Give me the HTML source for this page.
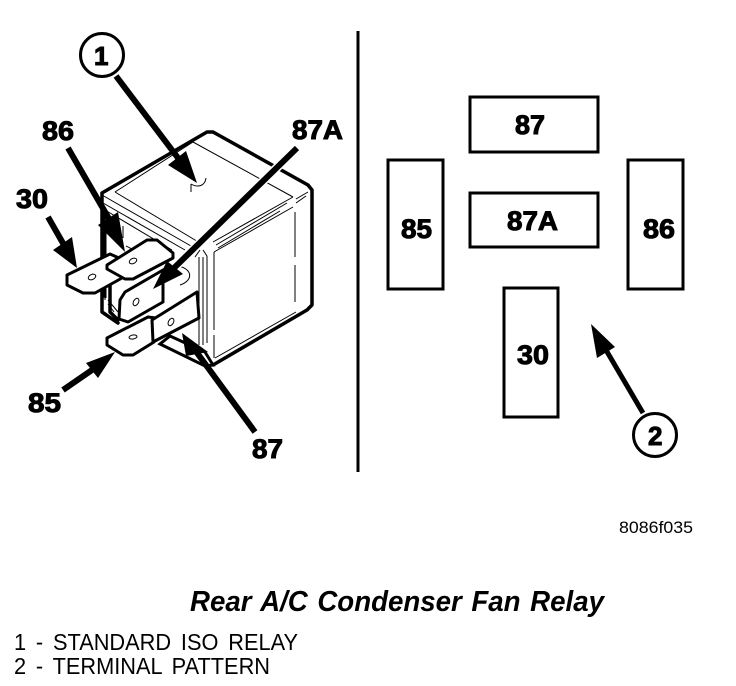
<!DOCTYPE html>
<html>
<head>
<meta charset="utf-8">
<style>
html,body{margin:0;padding:0;background:#fff}
svg{display:block}
text{font-family:"Liberation Sans",Arial,sans-serif;fill:#000}
.b{font-weight:bold;font-size:27px;stroke:#000;stroke-width:1px}
.c{font-weight:bold;font-size:26px;stroke:#000;stroke-width:1px}
.box{fill:#fff;stroke:#000;stroke-width:3}
.t{fill:#fff;stroke:#000;stroke-width:3;stroke-linejoin:round}
.o{fill:none;stroke:#000;stroke-width:3.500;stroke-linejoin:round;stroke-linecap:round}
.f{fill:none;stroke:#000;stroke-width:1}
.s{stroke:#000;stroke-width:6;fill:none}
.h{stroke:#fff;stroke-width:9;fill:none}
</style>
</head>
<body>
<svg width="736" height="686" viewBox="0 0 736 686" xmlns="http://www.w3.org/2000/svg">
<rect width="736" height="686" fill="#fff"/>

<!-- divider -->
<rect x="356.500" y="31" width="3" height="441" fill="#000"/>

<!-- relay body -->
<path class="o" d="M102 193L207 132L213 132L308 185L312 190L312 305L307 310L213 365L190 352M102 193L102 312L118 323"/>
<g class="f">
<path d="M115 192L193 142L293 197M115 192L200 243"/>
<path d="M102 195L198 250M103 203L185 250M105 210L172 250"/>
<path d="M213 242L293 197M214 252L293 207M216 245L287 203M218 248L280 211"/>
<path d="M296 199L308 192M296 203L306 196"/>
<path d="M295 212L295 257M295 265L295 302M214 252L214 330M215 358L296 312"/>
<path d="M199 257L199 345M203 257L203 345M207 256L207 343M214 335L214 358"/>
<path d="M195 257L200 250M203 250L207 256"/>
<path d="M106 222L106 298M105 215L105 300M123 226L123 238M126 246L138 252"/>
<path d="M171 265C193 266 195 280 180 285"/>
<path d="M191 184C198 188 205 186 206 178M191 184L191 192"/>
<path d="M108 300L118 312M108 304L114 312"/>
</g>
<path d="M160 344L205 366L213 365L205 352L170 336Z" fill="#fff" stroke="#000" stroke-width="3"/>
<path class="o" d="M104 215L104 296"/>
<path class="o" d="M110 284L110 312L118 320"/>

<!-- terminal 30 -->
<path class="t" d="M67 275L110 254L128 262L122 278L95 293L83 293L67 285Z"/>
<ellipse cx="92" cy="277" rx="4" ry="2.500" class="f" fill="#fff" transform="rotate(-25 92 277)"/>
<!-- terminal 86 -->
<path class="t" d="M107 265L147 240L157 240L173 253L173 258L133 279L125 279L107 269Z"/>
<ellipse cx="133" cy="261" rx="4" ry="2.500" class="f" fill="#fff" transform="rotate(-25 133 261)"/>
<!-- terminal 87A -->
<path class="t" d="M120 300L125 292L163 270L163 302L128 322L119 319Z"/>
<ellipse cx="136" cy="302" rx="2.500" ry="4" class="f" fill="#fff" transform="rotate(30 136 302)"/>
<!-- terminal 85 -->
<path class="t" d="M107 338L148 317L156 318L154 342L133 355L123 355L107 345Z"/>
<ellipse cx="133" cy="337" rx="4" ry="2" class="f" fill="#fff" transform="rotate(-10 133 337)"/>
<!-- terminal 87 -->
<path class="t" d="M152 320L197 292L199 318L153 342Z"/>
<ellipse cx="171" cy="322" rx="2.500" ry="4" class="f" fill="#fff" transform="rotate(30 171 322)"/>

<!-- arrows -->
<line class="s" x1="116" y1="76" x2="178" y2="158"/>
<path d="M197 183L168 165L186 151Z"/>
<line class="h" x1="297" y1="148" x2="174" y2="268"/>
<line class="s" x1="68" y1="148" x2="112" y2="224"/>
<path d="M125 252L98 225L118 212Z"/>
<line class="s" x1="48" y1="217" x2="64" y2="245"/>
<path d="M77 268L53 250L72 237Z"/>
<line class="s" x1="297" y1="148" x2="174" y2="268"/>
<path d="M153 289L167 261L183 274Z"/>
<line class="s" x1="63" y1="390" x2="92" y2="370"/>
<path d="M115 352L86 363L98 378Z"/>
<line class="s" x1="255" y1="432" x2="195" y2="350"/>
<path d="M182 333L186 356L208 352Z"/>
<line class="s" x1="643" y1="413" x2="606" y2="350" style="stroke-width:5"/>
<path d="M591 324L597 358L615 347Z"/>

<!-- callouts -->
<circle cx="102" cy="55" r="21.500" fill="#fff" stroke="#000" stroke-width="3"/>
<text class="c" x="94" y="65">1</text>
<circle cx="655" cy="435" r="21.500" fill="#fff" stroke="#000" stroke-width="3"/>
<text class="c" x="648" y="445">2</text>

<!-- labels -->
<text class="b" x="42" y="140" textLength="32" lengthAdjust="spacingAndGlyphs">86</text>
<text class="b" x="16" y="208" textLength="32" lengthAdjust="spacingAndGlyphs">30</text>
<text class="b" x="292" y="139" textLength="51" lengthAdjust="spacingAndGlyphs">87A</text>
<text class="b" x="28" y="412" textLength="33" lengthAdjust="spacingAndGlyphs">85</text>
<text class="b" x="252" y="458" textLength="31" lengthAdjust="spacingAndGlyphs">87</text>

<!-- terminal pattern -->
<rect class="box" x="470" y="97" width="128" height="55"/>
<rect class="box" x="388" y="160" width="55" height="129"/>
<rect class="box" x="628" y="160" width="55" height="129"/>
<rect class="box" x="470" y="193" width="128" height="54"/>
<rect class="box" x="504" y="288" width="54" height="129"/>
<text class="b" x="515" y="134" textLength="30" lengthAdjust="spacingAndGlyphs">87</text>
<text class="b" x="507" y="230" textLength="51" lengthAdjust="spacingAndGlyphs">87A</text>
<text class="b" x="401" y="238" textLength="31" lengthAdjust="spacingAndGlyphs">85</text>
<text class="b" x="643" y="238" textLength="32" lengthAdjust="spacingAndGlyphs">86</text>
<text class="b" x="517" y="364" textLength="32" lengthAdjust="spacingAndGlyphs">30</text>

<!-- captions -->
<text x="619" y="533" font-size="17" textLength="74" lengthAdjust="spacingAndGlyphs">8086f035</text>
<text x="190" y="611" font-size="29" font-weight="bold" font-style="italic" textLength="414" lengthAdjust="spacingAndGlyphs" word-spacing="2">Rear A/C Condenser Fan Relay</text>
<text x="14" y="650" font-size="23" textLength="284" lengthAdjust="spacingAndGlyphs" word-spacing="4">1 - STANDARD ISO RELAY</text>
<text x="14" y="674" font-size="23" textLength="256" lengthAdjust="spacingAndGlyphs" word-spacing="4">2 - TERMINAL PATTERN</text>
</svg>
</body>
</html>
